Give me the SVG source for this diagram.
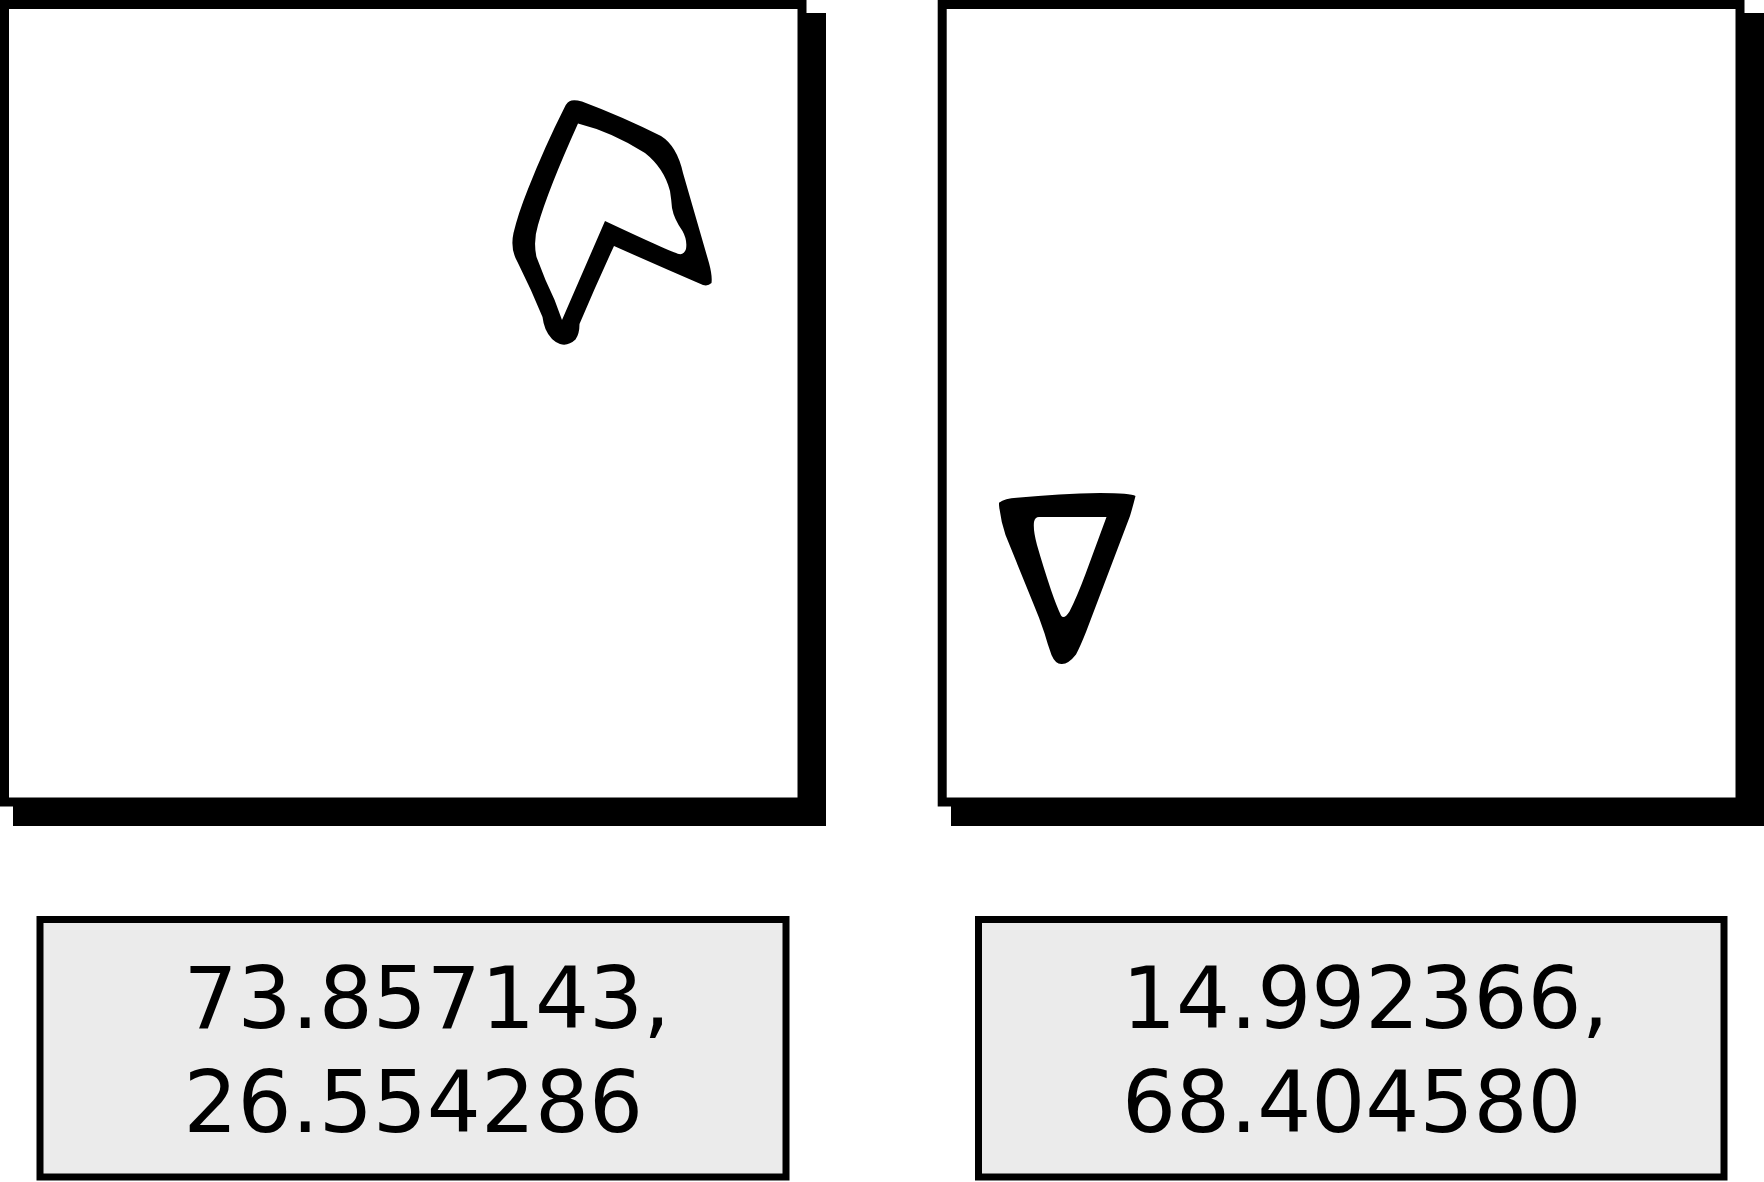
<svg xmlns="http://www.w3.org/2000/svg" width="1764" height="1182" viewBox="0 0 1764 1182">
<style>
.shadow{fill:#000}
.frame{fill:#fff;stroke:#000;stroke-width:9}
.glyph{fill:#000;fill-rule:evenodd}
.label{fill:#ebebeb;stroke:#000;stroke-width:7}
.txt{font-family:"DejaVu Sans",sans-serif;font-size:85px;fill:#000}
</style>
<rect width="1764" height="1182" fill="#fff"/>
<g id="panel1">
<rect class="shadow" x="13" y="13" width="813" height="813"/>
<rect class="frame" x="4.5" y="4.5" width="797.5" height="797.5"/>
<path class="glyph" d="M571.5,100.5 Q575,99.5 582,101.5 Q622,116.5 661,136 Q677,146 683,173 L709,263 Q712.5,276 711.5,283 Q708,286.5 703,285 Q660,266.5 614,246 Q596,285 579.5,324 Q579.5,334 575.5,339.5 Q568,346.5 560,344 Q550.5,340.5 545.5,329 Q543,322 542.5,317 Q531.5,290 517.5,262 Q510,249 513.5,233 Q518,214 528,189 Q545,146 564.5,107.5 Q567.5,101 571.5,100.5 Z M578,123.5 Q612,132 645,153 Q664,168 670,191 Q671.5,201 672,208 Q674,219 682.5,231 Q687.5,240 686,249 Q684,255 679,254 Q671,252 605,221 L562,320 Q555,299 545.5,280 L536.5,257 Q533,241 538,225 Q548,190 578,123.5 Z"/>
</g>
<g id="panel2">
<rect class="shadow" x="951" y="13" width="813" height="813"/>
<rect class="frame" x="942.2" y="4.5" width="797.8" height="797.5"/>
<path class="glyph" d="M999,502.7 Q1005,498.5 1016.7,497.8 Q1060,493.5 1100,493 Q1131,493 1135.5,496 Q1133,506 1130,516 L1086,632 Q1080,647 1076,654.5 Q1068.5,664 1062,664 Q1055.5,664.5 1051.5,655 Q1047.5,644 1044.5,633.3 Q1039.5,618 1033.5,604 L1005.5,535 Q1000.5,520 999,505 Z M1039,517 Q1035,517 1034,522 Q1033,530 1037,545 Q1043,566 1051,590 Q1056.5,606 1061,615.5 Q1064,620 1069.5,611.5 Q1076.5,598 1085.5,574 L1106.5,517 Z"/>
</g>
<g id="label1">
<rect class="label" x="40" y="919.5" width="746" height="257.5"/>
<text class="txt" x="183.5" y="1028">73.857143,</text>
<text class="txt" x="183.5" y="1131.5">26.554286</text>
</g>
<g id="label2">
<rect class="label" x="978.5" y="919.5" width="745.5" height="257.5"/>
<text class="txt" x="1122" y="1028">14.992366,</text>
<text class="txt" x="1122" y="1131.5">68.404580</text>
</g>
<g id="connectors"></g>
</svg>
